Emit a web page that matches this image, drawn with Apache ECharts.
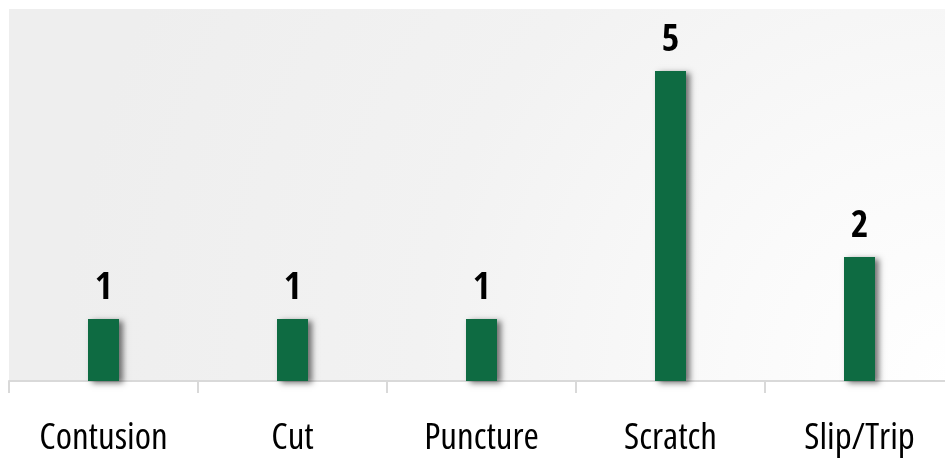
<!DOCTYPE html>
<html>
<head>
<meta charset="utf-8">
<script src="https://cdn.jsdelivr.net/npm/echarts@6/dist/echarts.min.js"></script>
<style>
  html, body { margin: 0; padding: 0; background: #ffffff; overflow: hidden; }
  #main { width: 954px; height: 460px; }
</style>
</head>
<body>
<div id="main"></div>
<script>
const categories = ['Contusion', 'Cut', 'Puncture', 'Scratch', 'Slip/Trip'];
const counts = [1, 1, 1, 5, 2];

let chart = echarts.init(document.getElementById('main'));
let option = {
  animation: false,
  grid: {
    left: 9,
    right: 0,
    top: 9,
    bottom: 79,
    show: true,
    borderWidth: 0,
    backgroundColor: new echarts.graphic.RadialGradient(1, 1, 2.4, [
      {offset: 0, color: '#ffffff'},
      {offset: 0.25, color: '#fafafa'},
      {offset: 0.6, color: '#f2f2f2'},
      {offset: 1, color: '#eeeeee'}
    ])
  },
  xAxis: {
    type: 'category',
    data: categories,
    axisLine: {lineStyle: {color: '#d9d9d9', width: 2}},
    axisTick: {show: true, length: 12, lineStyle: {color: '#d9d9d9', width: 2}},
    axisLabel: {
      color: '#000000',
      fontFamily: "'Open Sans', sans-serif",
      fontStyle: 'condensed',
      fontWeight: 'normal',
      fontSize: 37,
      margin: 39
    }
  },
  yAxis: {
    type: 'value',
    min: 0,
    max: 6,
    show: false,
    splitLine: {show: false}
  },
  series: [
    {
      type: 'bar',
      data: counts,
      barWidth: 31,
      itemStyle: {
        color: '#0e6b42',
        shadowColor: 'rgba(0,0,0,0.55)',
        shadowBlur: 6,
        shadowOffsetX: 4,
        shadowOffsetY: 2
      },
      label: {
        show: true,
        position: 'top',
        distance: 11,
        color: '#000000',
        fontFamily: "'Open Sans Condensed', 'Open Sans', sans-serif",
        fontWeight: 'bold',
        fontSize: 38
      }
    }
  ]
};
chart.setOption(option);
</script>
</body>
</html>
